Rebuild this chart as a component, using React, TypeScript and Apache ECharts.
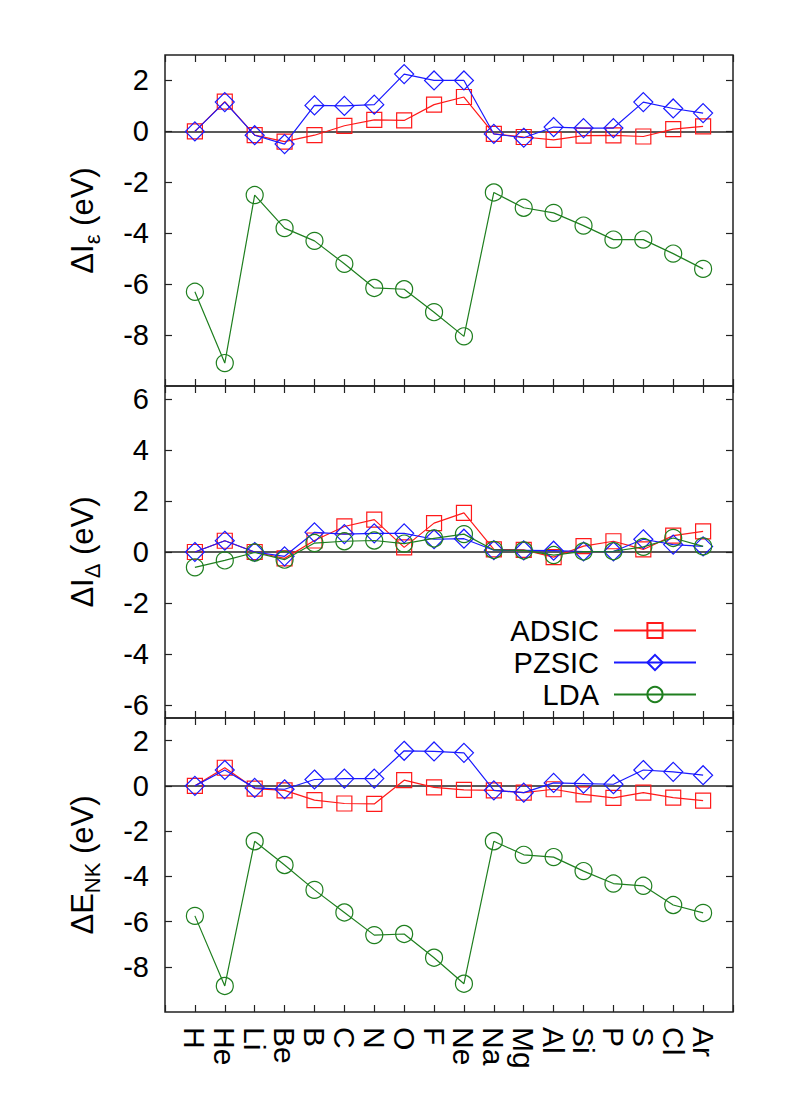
import React, { useEffect, useRef } from "react";
import * as echarts from "echarts";

const elements = ["H", "He", "Li", "Be", "B", "C", "N", "O", "F", "Ne", "Na", "Mg", "Al", "Si", "P", "S", "Cl", "Ar"];

// Panel 1: ΔI_ε (eV)
const topADSIC = [0, 1.17, -0.15, -0.4, -0.15, 0.22, 0.45, 0.43, 1.05, 1.35, -0.1, -0.22, -0.33, -0.17, -0.16, -0.2, 0.09, 0.2];
const topPZSIC = [0, 1.15, -0.15, -0.5, 1.02, 1.0, 1.05, 2.25, 2.0, 2.0, -0.1, -0.25, 0.17, 0.13, 0.13, 1.15, 0.9, 0.72];
const topLDA = [-6.3, -9.1, -2.5, -3.8, -4.3, -5.2, -6.15, -6.2, -7.1, -8.05, -2.4, -3.0, -3.2, -3.7, -4.25, -4.25, -4.8, -5.4];

// Panel 2: ΔI_Δ (eV)
const midADSIC = [0, 0.44, 0, -0.25, 0.45, 1.0, 1.27, 0.18, 1.13, 1.53, 0.1, 0.08, -0.2, 0.23, 0.42, 0.1, 0.64, 0.81];
const midPZSIC = [0, 0.44, 0, -0.17, 0.77, 0.7, 0.73, 0.73, 0.5, 0.52, 0.07, 0.06, 0.05, 0.02, 0.02, 0.5, 0.29, 0.22];
const midLDA = [-0.6, -0.33, -0.02, -0.3, 0.35, 0.42, 0.45, 0.33, 0.53, 0.7, 0.08, 0.06, -0.12, 0.02, 0.03, 0.2, 0.55, 0.22];

// Panel 3: ΔE_NK (eV)
const botADSIC = [0, 0.8, -0.12, -0.2, -0.63, -0.78, -0.8, 0.25, -0.07, -0.18, -0.2, -0.3, -0.15, -0.38, -0.53, -0.3, -0.52, -0.65];
const botPZSIC = [0, 0.7, -0.09, -0.15, 0.28, 0.32, 0.32, 1.55, 1.52, 1.46, -0.2, -0.3, 0.13, 0.1, 0.07, 0.7, 0.62, 0.47];
const botLDA = [-5.75, -8.85, -2.45, -3.5, -4.6, -5.6, -6.6, -6.55, -7.6, -8.75, -2.45, -3.05, -3.15, -3.77, -4.32, -4.42, -5.27, -5.62];

const topTicks = [-8, -6, -4, -2, 0, 2];
const midTicks = [-6, -4, -2, 0, 2, 4, 6];
const botTicks = [-8, -6, -4, -2, 0, 2];

const seriesNames = ["ADSIC", "PZSIC", "LDA"];

const FONT = "Liberation Sans, Arial, Helvetica, sans-serif";
const RED = "#ff1a1a";
const BLUE = "#1a1aff";
const GREEN = "#1f7f1f";
const FRAME = "#222";
const FS = 29;

export default function App() {
  const ref = useRef<HTMLDivElement>(null);

  useEffect(() => {
    if (!ref.current) return;
    const chart = echarts.init(ref.current, null, { renderer: "svg" });

    const panels = [
      { top: 55, height: 331, min: -10, max: 3, ticks: topTicks, name: "{m|ΔI}{s|ε}{m| (eV)}", data: [topADSIC, topPZSIC, topLDA] },
      { top: 386, height: 332, min: -6.5, max: 6.5, ticks: midTicks, name: "{m|ΔI}{s|Δ}{m| (eV)}", data: [midADSIC, midPZSIC, midLDA] },
      { top: 718, height: 294, min: -10, max: 3, ticks: botTicks, name: "{m|ΔE}{s|NK}{m| (eV)}", data: [botADSIC, botPZSIC, botLDA] },
    ];

    const grids: any[] = [];
    const xAxes: any[] = [];
    const yAxes: any[] = [];
    const series: any[] = [];

    const styles = [
      { symbol: "rect", size: 15, color: RED },
      { symbol: "diamond", size: 19, color: BLUE },
      { symbol: "circle", size: 17, color: GREEN },
    ];

    const blank = () => "";
    const noLine = { show: false, onZero: false };

    panels.forEach((p, i) => {
      grids.push({
        left: 165,
        width: 568,
        top: p.top,
        height: p.height,
        show: true,
        borderColor: FRAME,
        borderWidth: 1.5,
        backgroundColor: "transparent",
      });
      const isLast = i === panels.length - 1;
      const xBase = {
        type: "value",
        gridIndex: i,
        min: -1,
        max: 18,
        interval: 1,
        axisLine: noLine,
        splitLine: { show: false },
        axisTick: { show: true, inside: true, length: 7, lineStyle: { color: FRAME, width: 1.2 } },
      };
      xAxes.push({
        ...xBase,
        position: "bottom",
        axisLabel: {
          show: true,
          rotate: -90,
          margin: 15,
          fontSize: 30,
          color: "#000",
          fontFamily: FONT,
          formatter: isLast
            ? (v: number) => (Number.isInteger(v) && elements[v] !== undefined ? elements[v] : "")
            : blank,
        },
      });
      xAxes.push({ ...xBase, position: "top", axisLabel: { show: true, formatter: blank } });

      const yBase = {
        type: "value",
        gridIndex: i,
        min: p.min,
        max: p.max,
        axisLine: noLine,
        splitLine: { show: false },
        axisTick: { show: true, inside: true, length: 7, customValues: p.ticks, lineStyle: { color: FRAME, width: 1.2 } },
      };
      yAxes.push({
        ...yBase,
        position: "left",
        axisLabel: {
          show: true,
          customValues: p.ticks,
          margin: 16,
          fontSize: FS,
          color: "#000",
          fontFamily: FONT,
        },
        name: p.name,
        nameLocation: "middle",
        nameRotate: 90,
        nameGap: 62,
        nameTextStyle: {
          color: "#000",
          fontFamily: FONT,
          rich: {
            m: { fontSize: 31, fontFamily: FONT, color: "#000", lineHeight: 42 },
            s: { fontSize: 22, fontFamily: FONT, color: "#000", lineHeight: 42, verticalAlign: "bottom" },
          },
        },
      });
      yAxes.push({ ...yBase, position: "right", axisLabel: { show: true, customValues: p.ticks, formatter: blank } });

      p.data.forEach((vals, k) => {
        const st = styles[k];
        const s: any = {
          type: "line",
          name: seriesNames[k],
          xAxisIndex: 2 * i,
          yAxisIndex: 2 * i,
          data: vals.map((v, j) => [j, v]),
          symbol: st.symbol,
          symbolSize: st.size,
          color: st.color,
          itemStyle: { color: "rgba(0,0,0,0)", borderColor: st.color, borderWidth: 1.2 },
          lineStyle: { color: st.color, width: 1.2 },
          z: 3 + k,
          silent: true,
        };
        if (k === 0) {
          s.markLine = {
            silent: true,
            symbol: ["none", "none"],
            label: { show: false },
            lineStyle: { color: FRAME, width: 1.5, type: "solid" },
            data: [{ yAxis: 0 }],
            z: 2,
          };
        }
        series.push(s);
      });
    });

    const legends = seriesNames.map((n, k) => ({
      data: [n],
      right: 92,
      top: 616 + k * 32,
      orient: "horizontal",
      align: "right",
      itemWidth: 82,
      itemHeight: 19,
      padding: 0,
      selectedMode: false,
      textStyle: { fontSize: FS, color: "#000", fontFamily: FONT, padding: [0, 10, 0, 0] },
    }));

    chart.setOption({
      animation: false,
      backgroundColor: "#fff",
      grid: grids,
      xAxis: xAxes,
      yAxis: yAxes,
      legend: legends,
      series,
    });

    return () => chart.dispose();
  }, []);

  return <div ref={ref} style={{ position: "absolute", left: 0, top: 0, width: 789, height: 1104 }} />;
}
